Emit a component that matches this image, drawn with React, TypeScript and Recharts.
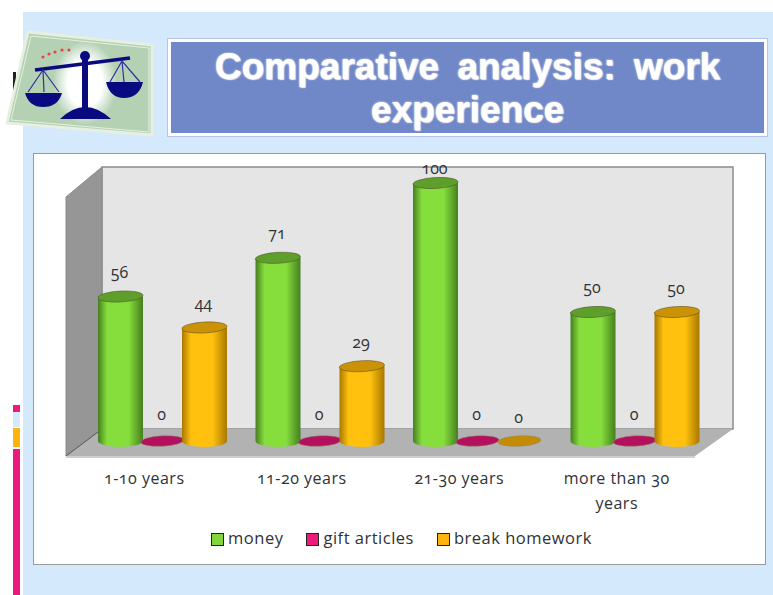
import { BarChart, Bar, XAxis, YAxis, Legend, LabelList, usePlotArea } from "recharts"

const categories = ["1-10 years", "11-20 years", "21-30 years", "more than 30 years"]
const money = [56, 71, 100, 50]
const giftArticles = [0, 0, 0, 0]
const breakHomework = [44, 29, 0, 50]
const titleLines = ["Comparative analysis: work", "experience"]

const data = categories.map((name, i) => ({
  name,
  money: money[i],
  gift: giftArticles[i],
  homework: breakHomework[i],
}))

const FONT = "'Open Sans', 'DejaVu Sans', sans-serif"
const TEXT = "#2f3236"

const SWATCH: Record<string, { body: string; edge: string; top: string; flat: string; chip: string }> = {
  money: { body: "#86DE3C", edge: "#457F20", top: "#5E9E2A", flat: "#5E9E2A", chip: "#80D63A" },
  gift: { body: "#EE1C7C", edge: "#8E0C4A", top: "#B5105E", flat: "#B5105E", chip: "#EC1A7C" },
  homework: { body: "#FFC10E", edge: "#A87800", top: "#CC9206", flat: "#C48C04", chip: "#FFB30F" },
}

function Backdrop() {
  const plot = usePlotArea()
  if (!plot) return null
  const back = { l: plot.x + 18.5, r: plot.x + plot.width + 19.5, t: plot.y - 16, b: plot.y + plot.height - 12 }
  const front = { l: plot.x - 17.5, r: plot.x + plot.width - 18.5, t: plot.y + 14, b: plot.y + plot.height + 15 }
  return (
    <g>
      <rect x={back.l} y={back.t} width={back.r - back.l} height={back.b - back.t} fill="#E5E5E5" stroke="#8C8C8C" strokeWidth={1.5} />
      <polygon
        points={`${front.l},${front.t} ${back.l},${back.t} ${back.l},${back.b} ${front.l},${front.b}`}
        fill="#969696"
        stroke="#8a8a8a"
      />
      <polygon
        points={`${front.l},${front.b} ${back.l},${back.b} ${back.r},${back.b} ${front.r},${front.b}`}
        fill="#B2B2B2"
      />
      <line x1={front.l} y1={front.b} x2={back.l} y2={back.b} stroke="#555" />
      <line x1={front.l} y1={front.b + 1} x2={front.r} y2={front.b + 1} stroke="#CFCFCF" strokeWidth={2} />
    </g>
  )
}

function Gradients() {
  return (
    <defs>
      {Object.entries(SWATCH).map(([key, c]) => (
        <linearGradient key={key} id={`cyl-${key}`} x1="0" y1="0" x2="1" y2="0">
          <stop offset="0%" stopColor={c.edge} />
          <stop offset="20%" stopColor={c.body} />
          <stop offset="68%" stopColor={c.body} />
          <stop offset="100%" stopColor={c.edge} />
        </linearGradient>
      ))}
    </defs>
  )
}

function cylinder(seriesKey: string) {
  return (props: any) => {
    const { x, y, width, height } = props
    const c = SWATCH[seriesKey]
    const cx = x + width / 2
    const rx = 22.5
    const ry = 6
    if (!height || height < 1) {
      return (
        <ellipse
          cx={cx}
          cy={y}
          rx={rx - 1}
          ry={5.2}
          fill={c.flat}
          stroke="#8a8a6a"
          strokeWidth={0.5}
          transform={`rotate(-3 ${cx} ${y})`}
        />
      )
    }
    const bottom = y + height
    return (
      <g>
        <path
          d={`M${cx - rx},${y} L${cx - rx},${bottom} A${rx},${ry} 0 0 0 ${cx + rx},${bottom} L${cx + rx},${y} Z`}
          fill={`url(#cyl-${seriesKey})`}
        />
        <ellipse
          cx={cx}
          cy={y}
          rx={rx}
          ry={ry - 0.5}
          fill={c.top}
          stroke="#4a4a2a"
          strokeWidth={0.5}
          transform={`rotate(-3 ${cx} ${y})`}
        />
      </g>
    )
  }
}

function valueLabel(lift: number) {
  return (props: any) => {
    const { x, y, width, value } = props
    return (
      <text
        x={x + width / 2 - 1}
        y={Math.max(y - lift, 20)}
        textAnchor="middle"
        fontSize={16}
        fill={TEXT}
        fontFamily={FONT}
        style={{ fontVariantNumeric: "oldstyle-nums" }}
      >
        {value}
      </text>
    )
  }
}

function CategoryTick(props: any) {
  const { x, y, payload } = props
  const words = String(payload.value).split(" ")
  const lines = words.length > 2 ? [words.slice(0, -1).join(" "), words[words.length - 1]] : [payload.value]
  return (
    <text
      x={x - 18}
      y={y + 35}
      textAnchor="middle"
      fontSize={16}
      letterSpacing={0.5}
      fill={TEXT}
      fontFamily={FONT}
      style={{ fontVariantNumeric: "oldstyle-nums" }}
    >
      {lines.map((line: string, i: number) => (
        <tspan key={i} x={x - 18} dy={i === 0 ? 0 : 25}>
          {line}
        </tspan>
      ))}
    </text>
  )
}

function LegendRow({ payload }: any) {
  return (
    <div style={{ display: "flex", justifyContent: "center", alignItems: "center", gap: 23, paddingLeft: 4, fontFamily: FONT, fontSize: 16.5, color: TEXT, letterSpacing: 0.5 }}>
      {(payload ?? []).map((item: any) => (
        <span key={item.value} style={{ display: "flex", alignItems: "center", gap: 4 }}>
          <span style={{ width: 11, height: 11, marginTop: 3, background: SWATCH[item.dataKey].chip, border: "1px solid #222", display: "inline-block" }} />
          {item.value}
        </span>
      ))}
    </div>
  )
}

function Scale() {
  return (
    <svg width={160} height={120} viewBox="0 0 160 120" style={{ position: "absolute", left: 0, top: 25 }}>
      <defs>
        <radialGradient id="halo">
          <stop offset="55%" stopColor="#fff" />
          <stop offset="100%" stopColor="#fff" stopOpacity={0} />
        </radialGradient>
      </defs>
      <polygon points="28,7 152,20 152,110 7,98" fill="#B4D1B4" stroke="#E6F0E0" strokeWidth={3} />
      <polygon points="31,11 149,23 149,107 11,95" fill="none" stroke="#E6F0E0" strokeWidth={1} />
      <ellipse cx={85} cy={58} rx={32} ry={42} fill="url(#halo)" />
      {[[43, 32], [49, 29], [55, 27], [62, 25], [69, 25]].map(([cx, cy]) => (
        <circle key={cx} cx={cx} cy={cy} r={1.6} fill="#F04040" />
      ))}
      <line x1={35} y1={45} x2={130} y2={33} stroke="#0A0A80" strokeWidth={3.5} />
      <circle cx={85} cy={31} r={5} fill="#0A0A80" />
      <rect x={82} y={32} width={6} height={52} fill="#0A0A80" />
      <path d="M60,94 Q85,70 111,94 Z" fill="#0A0A80" />
      <path d="M25,68 L62,68 Q58,82 43,82 Q29,82 25,68 Z" fill="#0A0A80" />
      <path d="M106,57 L143,57 Q139,73 124,73 Q110,73 106,57 Z" fill="#0A0A80" />
      <path d="M28,67 L43,45 L59,67 M43,45 L44,67" fill="none" stroke="#30309A" strokeWidth={1.2} />
      <path d="M110,57 L122,36 L140,57 M122,36 L124,57" fill="none" stroke="#30309A" strokeWidth={1.2} />
    </svg>
  )
}

export default function App() {
  return (
    <div style={{ position: "absolute", left: 0, top: 0, width: 773, height: 595, background: "#fff", overflow: "hidden" }}>
      <div style={{ position: "absolute", left: 23, top: 12, width: 750, height: 583, background: "#D4E9FC" }} />

      <div style={{ position: "absolute", left: 13, top: 72, width: 3, height: 26, background: "#222" }} />
      <div style={{ position: "absolute", left: 13, top: 405, width: 7, height: 7, background: "#EC1A7C" }} />
      <div style={{ position: "absolute", left: 13, top: 412, width: 7, height: 15, background: "#D4E9FC" }} />
      <div style={{ position: "absolute", left: 13, top: 428, width: 7, height: 19, background: "#FFB30F" }} />
      <div style={{ position: "absolute", left: 13, top: 449, width: 7, height: 146, background: "#EC1A7C" }} />

      <Scale />

      <div
        style={{
          position: "absolute",
          left: 168,
          top: 39,
          width: 599,
          height: 97,
          boxSizing: "border-box",
          paddingTop: 3,
          background: "#7088C8",
          border: "3px solid #fff",
          outline: "1px solid #B4C4EC",
          color: "#fff",
          textAlign: "center",
          fontFamily: "'Liberation Sans', Arial, sans-serif",
          fontWeight: 700,
          fontSize: 37,
          lineHeight: "43px",
          wordSpacing: 8,
          whiteSpace: "pre",
          textShadow: "0 0 2px #fff, 1px 1px 1px #f5e8e8",
        }}
      >
        {titleLines.map((line) => (
          <div key={line}>{line}</div>
        ))}
      </div>

      <div style={{ position: "absolute", left: 34, top: 154, width: 731, height: 410, background: "#fff", outline: "1.5px solid #9A9A9A" }}>
        <BarChart
          width={731}
          height={410}
          data={data}
          barSize={42}
          barGap={0}
          barCategoryGap={0}
          margin={{ top: 29, right: 51.5, bottom: 63, left: 49.5 }}
        >
          <Gradients />
          <Backdrop />
          <XAxis dataKey="name" axisLine={false} tickLine={false} height={60} interval={0} tick={CategoryTick} />
          <YAxis hide domain={[0, 100]} />
          <Legend
            layout="horizontal"
            verticalAlign="middle"
            itemSorter={null}
            wrapperStyle={{ top: 372, left: 0, width: 731 }}
            content={LegendRow}
          />
          <Bar dataKey="money" name="money" fill="#86DE3C" shape={cylinder("money")} isAnimationActive={false}>
            <LabelList dataKey="money" content={valueLabel(19)} />
          </Bar>
          <Bar dataKey="gift" name="gift articles" fill="#EE1C7C" shape={cylinder("gift")} isAnimationActive={false}>
            <LabelList dataKey="gift" content={valueLabel(21)} />
          </Bar>
          <Bar dataKey="homework" name="break homework" fill="#FFC10E" shape={cylinder("homework")} isAnimationActive={false}>
            <LabelList dataKey="homework" content={valueLabel(18)} />
          </Bar>
        </BarChart>
      </div>
    </div>
  )
}
